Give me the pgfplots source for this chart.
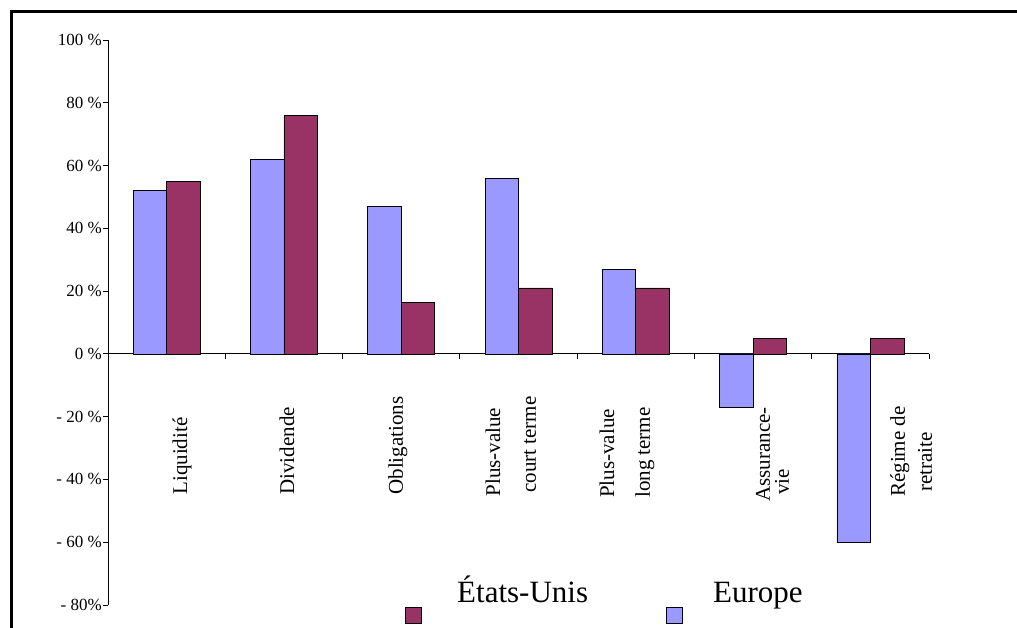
\documentclass[border=0pt]{standalone}
\usepackage{pgfplots}
\pgfplotsset{compat=1.18}
\usepackage{fontspec}
\setmainfont{Liberation Serif}
\definecolor{europe}{HTML}{9999FF}
\definecolor{usa}{HTML}{993366}
\tikzset{catlabel/.style={rotate=90, anchor=west, inner sep=0pt, font=\fontsize{21}{24}\selectfont}}
\begin{document}
\begin{tikzpicture}[x=1pt,y=1pt]
\useasboundingbox (0,0) rectangle (1017,628);
% outer frame
\draw[line width=3pt] (11,-20) -- (11,616) -- (1040,616);
\begin{axis}[
  at={(108pt,23pt)}, anchor=south west, scale only axis,
  width=821pt, height=565pt,
  xmin=-0.5, xmax=6.5, ymin=-80, ymax=100,
  axis x line=middle, axis y line=left,
  axis line style={-, line width=0.8pt},
  xtick={-0.5,0.5,1.5,2.5,3.5,4.5,5.5,6.5}, xticklabels={},
  ytick={-80,-60,-40,-20,0,20,40,60,80,100},
  yticklabels={- 80\%, - 60 \%, - 40 \%, - 20 \%, 0 \%, 20 \%, 40 \%, 60 \%, 80 \%, 100 \%},
  tick align=outside, major tick length=5pt,
  tick style={black, line width=0.8pt},
  yticklabel style={font=\fontsize{17}{20}\selectfont, inner sep=1pt},
  ybar=0pt, bar width=33.5pt,
  clip=false,
]
% Europe
\addplot[fill=europe, draw=black, line width=0.6pt]
  coordinates {(0,52) (1,62) (2,47) (3,56) (4,27) (5,-17) (6,-60)};
% États-Unis
\addplot[fill=usa, draw=black, line width=0.6pt]
  coordinates {(0,55) (1,76) (2,16.5) (3,21) (4,21) (5,5) (6,5)};
% category names
\node[catlabel] at (axis cs:0.131,-44.9) {Liquidité};
\node[catlabel] at (axis cs:1.026,-44.9) {Dividende};
\node[catlabel] at (axis cs:1.972,-44.9) {Obligations};
\node[catlabel] at (axis cs:2.782,-45.5) {Plus-value};
\node[catlabel] at (axis cs:3.098,-44.3) {court terme};
\node[catlabel] at (axis cs:3.754,-45.9) {Plus-value};
\node[catlabel] at (axis cs:4.078,-45.9) {long terme};
\node[catlabel] at (axis cs:5.084,-47.1) {Assurance-};
\node[catlabel] at (axis cs:5.246,-44.9) {vie};
\node[catlabel] at (axis cs:6.252,-45.6) {Régime de};
\node[catlabel] at (axis cs:6.466,-44.0) {retraite};
\end{axis}
% legend
\filldraw[fill=usa, draw=black, line width=0.6pt] (405,5) rectangle (421,21);
\node[anchor=base west, inner sep=0pt, font=\fontsize{31}{36}\selectfont] at (457,25) {États-Unis};
\filldraw[fill=europe, draw=black, line width=0.6pt] (666,5) rectangle (682,21);
\node[anchor=base west, inner sep=0pt, font=\fontsize{31}{36}\selectfont] at (713,25) {Europe};
\end{tikzpicture}
\end{document}
